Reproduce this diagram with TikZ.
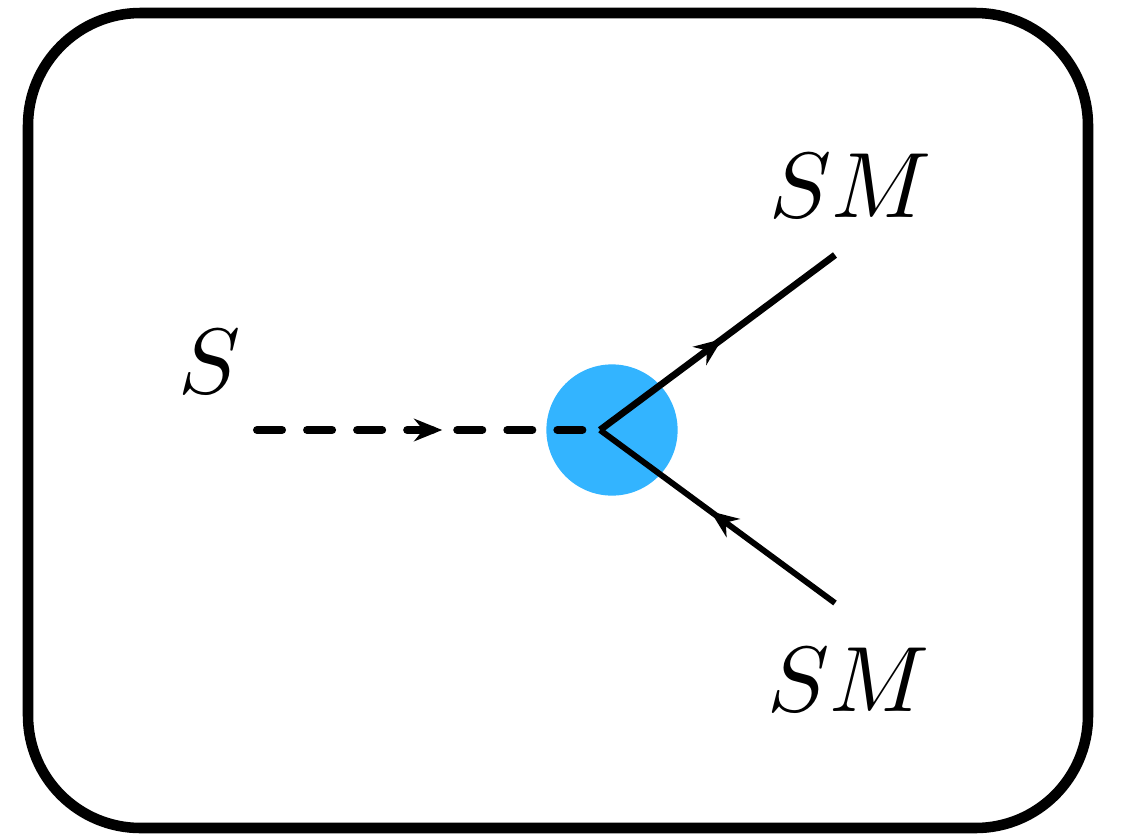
\documentclass[tikz,border=0pt]{standalone}
\usepackage{tikz}
\usetikzlibrary{arrows.meta,decorations.markings}
\definecolor{blob}{HTML}{33B4FF}
\tikzset{
  frame/.style={line width=7.5pt,rounded corners=80pt},
  leg/.style={line width=4.8pt,
    postaction={decorate,decoration={markings,
      mark=at position #1 with {\arrow{Stealth[length=20pt,width=16pt]}}}}},
  scalarleg/.style={leg=#1,line width=5.7pt,line cap=round,
    dash pattern=on 17.8pt off 17.8pt},
  lbl/.style={scale=6.6,inner sep=0pt}
}
\begin{document}
\begin{tikzpicture}[x=0.025cm,y=-0.025cm]
  \useasboundingbox (0,0) rectangle (1128,836);
  \draw[frame] (28,13) rectangle (1088,828);

  \node[circle,fill=blob,minimum size=3.28cm,inner sep=0pt] (blob) at (612,430) {};
  \coordinate (v) at (600,430);
  \coordinate (in) at (257,430);
  \coordinate (up) at (835,255);
  \coordinate (dn) at (835,603);

  \node[lbl] (S) at (210,362) {$S$};
  \node[lbl] (SMup) at (851,186) {$SM$};
  \node[lbl] (SMdn) at (849,680) {$SM$};

  \draw[scalarleg=0.54] (in) -- (v);
  \draw[leg=0.52] (v) -- (up);
  \draw[leg=0.53,line width=4.2pt] (dn) -- (v);
\end{tikzpicture}
\end{document}
